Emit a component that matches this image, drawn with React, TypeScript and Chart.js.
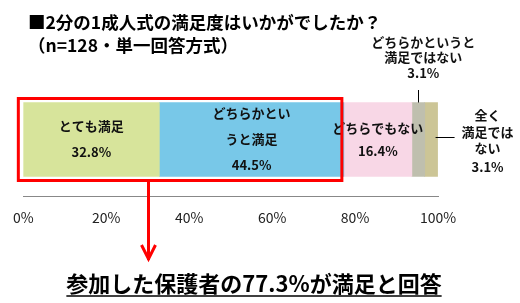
import React, { useEffect, useRef } from "react";
import { Chart, registerables } from "chart.js";

Chart.register(...registerables);

const categories = ["満足度"];
const seriesNames = ["とても満足", "どちらかというと満足", "どちらでもない", "どちらかというと満足ではない", "全く満足ではない"];
const seriesValues = [32.8, 44.5, 16.4, 3.1, 3.1];
const seriesColors = ["#d7e49b", "#78c8e8", "#f8d7e6", "#bfbfae", "#ccc596"];
const tickValues = [0, 20, 40, 60, 80, 100];
const titleLines = ["■2分の1成人式の満足度はいかがでしたか？", "（n=128・単一回答方式）"];
const summaryText = "参加した保護者の77.3%が満足と回答";

const FONT = '"Noto Sans CJK JP", "Noto Sans", sans-serif';

const annotate = {
  id: "annotate",
  afterDraw(chart: any) {
    const ctx = chart.ctx as CanvasRenderingContext2D;
    const xs = chart.scales.x;
    const metas = seriesValues.map((_, i) => chart.getDatasetMeta(i).data[0] as any);
    const top = metas[0].y - metas[0].height / 2;
    const bottom = metas[0].y + metas[0].height / 2;
    const mid = metas[0].y;
    const segCenter = (i: number) => (metas[i].x + metas[i].base) / 2;

    ctx.save();
    ctx.textAlign = "left";
    ctx.textBaseline = "middle";
    ctx.fillStyle = "#000";
    ctx.font = `bold 17.5px ${FONT}`;
    ctx.fillText(titleLines[0], 28, 22);
    ctx.fillText(titleLines[1], 28, 45);

    // Labels inside bars
    ctx.textAlign = "center";
    ctx.font = `bold 13px ${FONT}`;
    ctx.fillStyle = "#111";
    const p = (v: number) => v.toFixed(1) + "%";
    ctx.fillText("とても満足", segCenter(0), mid - 13);
    ctx.fillText(p(seriesValues[0]), segCenter(0), mid + 13);
    ctx.fillText("どちらかとい", segCenter(1), mid - 26);
    ctx.fillText("うと満足", segCenter(1), mid);
    ctx.fillText(p(seriesValues[1]), segCenter(1), mid + 26);
    ctx.fillText("どちらでもない", segCenter(2), mid - 11);
    ctx.fillText(p(seriesValues[2]), segCenter(2), mid + 12);

    // Top callout
    const c3 = segCenter(3);
    ctx.fillText("どちらかというと", c3 + 5, 42);
    ctx.fillText("満足ではない", c3 + 5, 57);
    ctx.fillText(p(seriesValues[3]), c3 + 5, 73);
    ctx.strokeStyle = "#000";
    ctx.lineWidth = 1;
    ctx.beginPath();
    ctx.moveTo(Math.round(c3) + 0.5, 90);
    ctx.lineTo(Math.round(c3) + 0.5, top);
    ctx.stroke();

    // Right callout
    const r4 = metas[4].x;
    ctx.beginPath();
    ctx.moveTo(r4 - 2, 137.5);
    ctx.lineTo(r4 + 17, 137.5);
    ctx.stroke();
    const cx = r4 + 50;
    ctx.fillText("全く", cx, 115);
    ctx.fillText("満足では", cx, 132);
    ctx.fillText("ない", cx, 148);
    ctx.fillText(p(seriesValues[4]), cx, 167);

    // Red box around satisfied segments
    ctx.strokeStyle = "#ff0000";
    ctx.lineWidth = 3;
    const bx0 = xs.getPixelForValue(0) - 5;
    const bx1 = metas[1].x - 2;
    ctx.strokeRect(bx0, top - 4, bx1 - bx0, bottom - top + 8);

    // Arrow
    const ax = 148.5;
    ctx.beginPath();
    ctx.moveTo(ax, bottom + 5);
    ctx.lineTo(ax, 260);
    ctx.stroke();
    ctx.beginPath();
    ctx.moveTo(ax - 7, 245);
    ctx.lineTo(ax, 259);
    ctx.lineTo(ax + 7, 245);
    ctx.stroke();

    // Summary text
    ctx.fillStyle = "#000";
    ctx.font = `bold 22px ${FONT}`;
    ctx.textAlign = "center";
    ctx.textBaseline = "alphabetic";
    const tx = 254;
    ctx.fillText(summaryText, tx, 292);
    const w = ctx.measureText(summaryText).width;
    ctx.lineWidth = 1.5;
    ctx.strokeStyle = "#000";
    ctx.beginPath();
    ctx.moveTo(tx - w / 2, 296);
    ctx.lineTo(tx + w / 2, 296);
    ctx.stroke();
    ctx.restore();
  },
};

export default function App() {
  const ref = useRef<HTMLCanvasElement>(null);
  useEffect(() => {
    document.body.style.margin = "0";
    const chart = new Chart(ref.current!, {
      type: "bar",
      data: {
        labels: categories,
        datasets: seriesValues.map((v, i) => ({
          label: seriesNames[i],
          data: [v],
          backgroundColor: seriesColors[i],
          borderWidth: 0,
          barThickness: 74,
        })),
      },
      options: {
        indexAxis: "y",
        responsive: false,
        animation: false,
        layout: { padding: { top: 83, left: 19, right: 82, bottom: 0 } },
        plugins: { legend: { display: false }, tooltip: { enabled: false }, title: { display: false } },
        scales: {
          x: {
            stacked: true,
            min: 0,
            max: 100,
            afterBuildTicks: (s: any) => {
              s.ticks = tickValues.map((v) => ({ value: v }));
            },
            afterFit: (s: any) => {
              s.height = 107;
            },
            grid: { display: false, drawTicks: false },
            border: { display: true, color: "#888888", width: 1 },
            ticks: {
              padding: 13,
              color: "#222",
              font: { family: FONT, size: 14 },
              callback: (v: any) => v + "%",
            },
          },
          y: { stacked: true, display: false },
        },
      },
      plugins: [annotate],
    } as any);
    return () => chart.destroy();
  }, []);
  return (
    <div style={{ position: "fixed", left: 0, top: 0, width: 520, height: 303, background: "#fff" }}>
      <canvas ref={ref} width={520} height={303} />
    </div>
  );
}
